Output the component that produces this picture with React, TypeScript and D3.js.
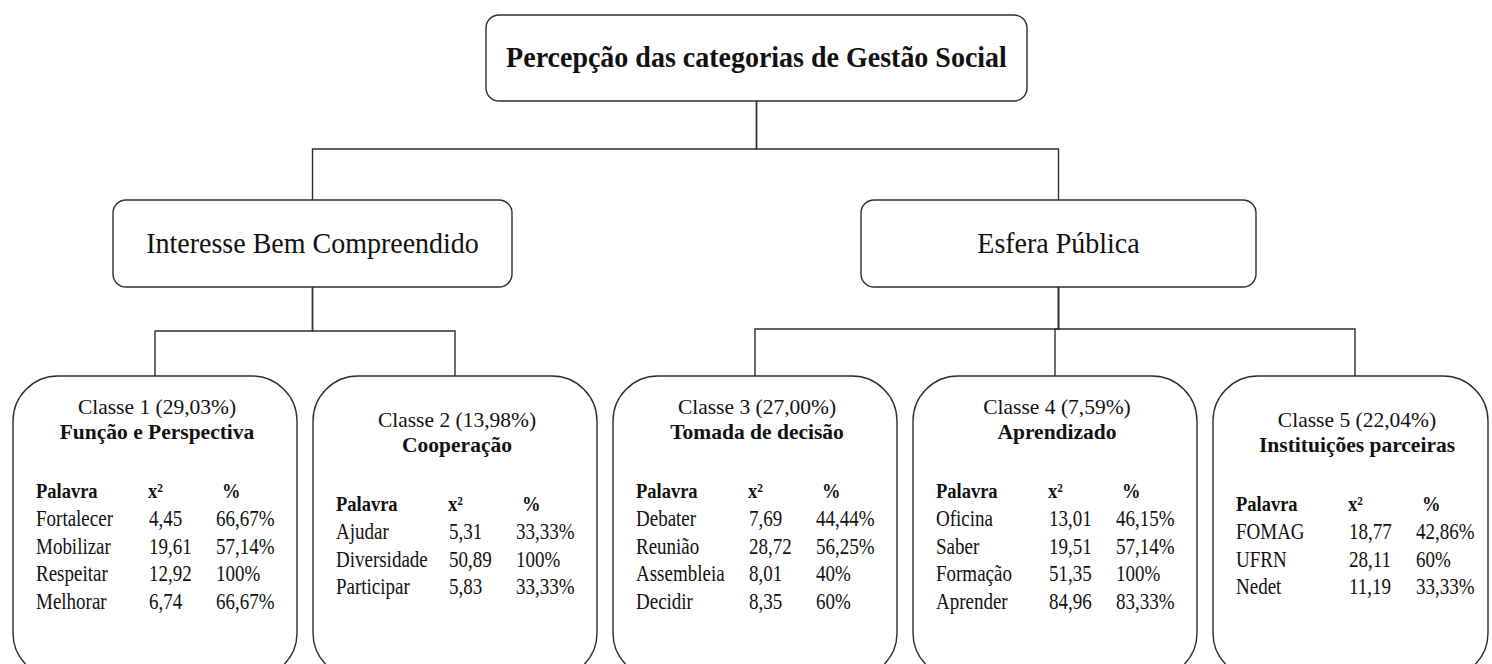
import React from 'react';
import * as d3 from 'd3';

// tree labels
const rootLabel = 'Percepção das categorias de Gestão Social';
const branchLabels = ['Interesse Bem Compreendido', 'Esfera Pública'];
const branchOfClass = [0, 0, 1, 1, 1];

// classes
const classShares = [29.03, 13.98, 27.0, 7.59, 22.04];
const classNames = [
  'Função e Perspectiva',
  'Cooperação',
  'Tomada de decisão',
  'Aprendizado',
  'Instituições parceiras',
];
const tableHeader = ['Palavra', 'x²', '%'];
const classWords = [
  ['Fortalecer', 'Mobilizar', 'Respeitar', 'Melhorar'],
  ['Ajudar', 'Diversidade', 'Participar'],
  ['Debater', 'Reunião', 'Assembleia', 'Decidir'],
  ['Oficina', 'Saber', 'Formação', 'Aprender'],
  ['FOMAG', 'UFRN', 'Nedet'],
];
const classChi2 = [
  [4.45, 19.61, 12.92, 6.74],
  [5.31, 50.89, 5.83],
  [7.69, 28.72, 8.01, 8.35],
  [13.01, 19.51, 51.35, 84.96],
  [18.77, 28.11, 11.19],
];
const classPct = [
  [66.67, 57.14, 100, 66.67],
  [33.33, 100, 33.33],
  [44.44, 56.25, 40, 60],
  [46.15, 57.14, 100, 83.33],
  [42.86, 60, 33.33],
];

const W = 1492;
const H = 664;
const FONT = '"Liberation Serif", "Times New Roman", Times, serif';
const INK = '#111';
const LINE = '#2e2e2e';

const ptBR = d3.formatLocale({
  decimal: ',',
  thousands: '.',
  grouping: [3],
  currency: ['R$', ''],
});
const fmt2 = ptBR.format('.2f');
const fmtPct = (v: number) => (Number.isInteger(v) ? `${v}%` : `${fmt2(v)}%`);

// layout
const rootBox = { x: 486, y: 15, w: 541, h: 86, rx: 13 };
const branchBoxes = [
  { x: 113, y: 200, w: 399, h: 87, rx: 13 },
  { x: 861, y: 200, w: 395, h: 87, rx: 13 },
];
const rootRailY = 149;
const branchRailY = [331, 329];
const classTop = 376;
const classBottom = 678;
const rightLimit = 1488;
const stretch = 1.16; // the original figure is a bit taller than wide

const classX = d3
  .scaleBand<number>()
  .domain(d3.range(classNames.length))
  .range([13, 1497])
  .paddingInner(0.0533);

function elbow(x0: number, y0: number, railY: number, x1: number, y1: number) {
  const p = d3.path();
  p.moveTo(x0, y0);
  p.lineTo(x0, railY);
  p.lineTo(x1, railY);
  p.lineTo(x1, y1);
  return p.toString();
}

function roundBox(x: number, y0: number, w: number, y1: number, r: number) {
  const p = d3.path();
  p.moveTo(x + r, y0);
  p.lineTo(x + w - r, y0);
  p.arcTo(x + w, y0, x + w, y0 + r, r);
  p.lineTo(x + w, y1 - r);
  p.arcTo(x + w, y1, x + w - r, y1, r);
  p.lineTo(x + r, y1);
  p.arcTo(x, y1, x, y1 - r, r);
  p.lineTo(x, y0 + r);
  p.arcTo(x, y0, x + r, y0, r);
  p.closePath();
  return p.toString();
}

function T({ x, y, k = stretch, children, ...rest }: any) {
  return (
    <text transform={`translate(${x},${y}) scale(1,${k})`} {...rest}>
      {children}
    </text>
  );
}

function ClassBox({ i }: { i: number }) {
  const x = classX(i)!;
  const bw = Math.min(classX.bandwidth(), rightLimit - x);
  const cx = x + classX.bandwidth() / 2;
  const n = classWords[i].length;
  const y0 = classTop + (4 - n) * 13;
  const cols = [x + 23, x + 136, x + 203];
  const headCols = [x + 23, x + 135, x + 209];
  const rowY = d3.scaleLinear().domain([0, 1]).range([y0 + 150, y0 + 177.6]);
  return (
    <g>
      <path d={roundBox(x, classTop, bw, classBottom, 45)} fill="#fff" stroke={LINE} strokeWidth={1.4} />
      <T x={cx + 2} y={y0 + 38} k={1} textAnchor="middle" fontSize={21.5}>
        {`Classe ${i + 1} (${fmt2(classShares[i])}%)`}
      </T>
      <T x={cx + 2} y={y0 + 63} k={1} textAnchor="middle" fontSize={21.5} fontWeight="bold">
        {classNames[i]}
      </T>
      {tableHeader.map((h, k) => (
        <T key={h} x={headCols[k]} y={y0 + 122} fontSize={18.5} fontWeight="bold">
          {h}
        </T>
      ))}
      {classWords[i].map((w, r) => (
        <g key={w} fontSize={19}>
          <T x={cols[0]} y={rowY(r)}>{w}</T>
          <T x={cols[1]} y={rowY(r)}>{fmt2(classChi2[i][r])}</T>
          <T x={cols[2]} y={rowY(r)}>{fmtPct(classPct[i][r])}</T>
        </g>
      ))}
    </g>
  );
}

export default function App() {
  const rootCx = rootBox.x + rootBox.w / 2;
  const branchCx = branchBoxes.map((b) => b.x + b.w / 2);
  return (
    <div style={{ position: 'absolute', left: 0, top: 0 }}>
      <svg
        width={W}
        height={H}
        style={{ display: 'block', background: '#fff', fontFamily: FONT }}
        fill={INK}
      >
        <g fill="none" stroke={LINE} strokeWidth={1.4}>
          {branchCx.map((bx, b) => (
            <path key={b} d={elbow(rootCx, rootBox.y + rootBox.h, rootRailY, bx, branchBoxes[b].y)} />
          ))}
          {classNames.map((_, i) => {
            const b = branchOfClass[i];
            const bb = branchBoxes[b];
            const cx = classX(i)! + classX.bandwidth() / 2;
            return <path key={i} d={elbow(branchCx[b], bb.y + bb.h, branchRailY[b], cx, classTop)} />;
          })}
        </g>
        <rect
          x={rootBox.x}
          y={rootBox.y}
          width={rootBox.w}
          height={rootBox.h}
          rx={rootBox.rx}
          fill="#fff"
          stroke={LINE}
          strokeWidth={1.4}
        />
        <T x={rootCx} y={rootBox.y + 52} k={1.08} textAnchor="middle" fontSize={28} fontWeight="bold">
          {rootLabel}
        </T>
        {branchBoxes.map((bb, b) => (
          <g key={b}>
            <rect x={bb.x} y={bb.y} width={bb.w} height={bb.h} rx={bb.rx} fill="#fff" stroke={LINE} strokeWidth={1.4} />
            <T x={branchCx[b]} y={bb.y + 53} k={1.08} textAnchor="middle" fontSize={28}>
              {branchLabels[b]}
            </T>
          </g>
        ))}
        {classNames.map((_, i) => (
          <ClassBox key={i} i={i} />
        ))}
      </svg>
    </div>
  );
}
